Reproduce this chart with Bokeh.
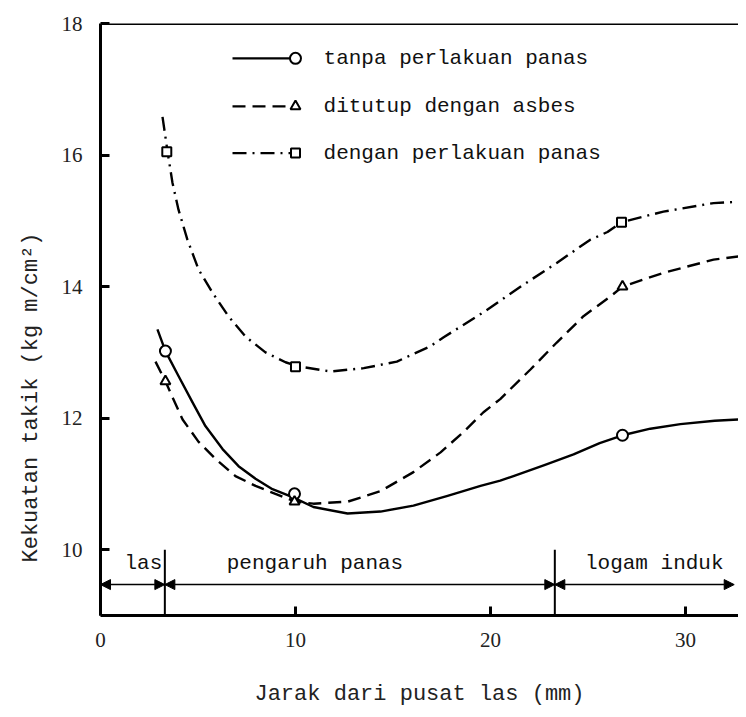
from bokeh.plotting import figure
from bokeh.models import Range1d, FixedTicker, Span, Label, Arrow, NormalHead, Title
from bokeh.embed import file_html
from bokeh.resources import INLINE

# ---------------- data ----------------
x_ticks = [0, 10, 20, 30]
y_ticks = [10, 12, 14, 16, 18]

series_names = ["tanpa perlakuan panas", "ditutup dengan asbes", "dengan perlakuan panas"]

# measured points (markers)
solid_pts_x = [3.33, 9.95, 26.77]
solid_pts_y = [13.02, 10.85, 11.74]
dash_pts_x = [3.33, 9.95, 26.77]
dash_pts_y = [12.56, 10.73, 14.0]
dd_pts_x = [3.4, 10.0, 26.72]
dd_pts_y = [16.05, 12.78, 14.98]

# hand-drawn curves
solid_curve_x = [2.92, 3.33, 4.0, 4.72, 5.38, 6.26, 7.08, 7.95, 8.82, 9.85, 10.92, 12.67,
                 14.36, 16.05, 17.8, 19.49, 20.5, 21.18, 22.8, 24.26, 25.6, 26.77, 28.2,
                 29.74, 31.5, 32.72]
solid_curve_y = [13.35, 13.02, 12.64, 12.24, 11.88, 11.53, 11.27, 11.08, 10.92, 10.80, 10.65, 10.55,
                 10.58, 10.67, 10.82, 10.97, 11.05, 11.12, 11.29, 11.45, 11.62, 11.74, 11.84,
                 11.91, 11.96, 11.98]

dash_curve_x = [2.82, 3.33, 3.69, 4.21, 5.03, 5.90, 6.92, 7.95, 8.97, 10.0, 10.92, 12.67,
                14.36, 16.05, 17.44, 18.62, 19.64, 20.5, 22.05, 23.4, 24.77, 26.15, 26.77,
                28.87, 31.44, 32.72]
dash_curve_y = [12.86, 12.56, 12.32, 11.98, 11.64, 11.38, 11.12, 10.97, 10.85, 10.73, 10.70, 10.73,
                10.89, 11.18, 11.48, 11.79, 12.09, 12.29, 12.74, 13.15, 13.55, 13.85, 14.0,
                14.21, 14.41, 14.46]

dd_curve_x = [3.18, 3.44, 3.69, 4.0, 4.46, 5.03, 5.74, 6.56, 7.44, 8.46, 9.49, 10.1, 11.8,
              13.5, 15.2, 16.9, 17.6, 19.64, 21.7, 23.4, 25.1, 26.0, 26.72, 28.87, 31.44, 32.72]
dd_curve_y = [16.58, 16.05, 15.58, 15.17, 14.71, 14.26, 13.91, 13.55, 13.24, 13.0, 12.85, 12.79, 12.71,
              12.76, 12.86, 13.09, 13.23, 13.61, 14.03, 14.36, 14.71, 14.83, 14.98, 15.14, 15.27, 15.29]

# zones along the bottom
zone_bounds = [0, 3.3, 23.3, 32.5]
zone_names = ["las", "pengaruh panas", "logam induk"]

x_title = "Jarak dari pusat las (mm)"
y_title = "Kekuatan takik (kg m/cm²)"

# ---------------- figure ----------------
MONO = "Liberation Mono"
SERIF = "Liberation Serif"

p = figure(width=738, height=709, output_backend="svg", toolbar_location=None,
           x_range=Range1d(0, 32.72), y_range=Range1d(9, 18),
           min_border_left=100, min_border_right=0, min_border_top=23, min_border_bottom=93)
p.outline_line_color = None
p.grid.visible = False
p.background_fill_color = "white"

for ax, ticks in ((p.xaxis, x_ticks), (p.yaxis, y_ticks)):
    ax.ticker = FixedTicker(ticks=ticks)
    ax.axis_line_width = 3
    ax.axis_line_color = "black"
    ax.major_tick_in = 9
    ax.major_tick_out = 0
    ax.major_tick_line_width = 3
    ax.minor_tick_line_color = None
    ax.major_label_text_font = SERIF
    ax.major_label_text_font_size = "21px"
    ax.major_label_text_color = "#222222"
p.yaxis.major_label_standoff = 18
p.xaxis.major_label_standoff = 17

p.xaxis.axis_label = x_title
p.xaxis.axis_label_text_font = MONO
p.xaxis.axis_label_text_font_size = "22px"
p.xaxis.axis_label_text_font_style = "normal"
p.xaxis.axis_label_text_color = "#222222"
p.xaxis.axis_label_standoff = 32

p.add_layout(Title(text=y_title, align="left", offset=53, standoff=30,
                   text_font=MONO, text_font_size="22px", text_font_style="normal",
                   text_color="#222222"), "left")

p.add_layout(Span(location=18, dimension="width", line_color="black", line_width=3))

LW = 2.4
p.line(solid_curve_x, solid_curve_y, line_color="black", line_width=LW, line_join="round")
p.line(dash_curve_x, dash_curve_y, line_color="black", line_width=LW, line_dash="13 7")
p.line(dd_curve_x, dd_curve_y, line_color="black", line_width=LW, line_dash="14 6 2 6")

mk = dict(fill_color="white", line_color="black", line_width=2)
p.scatter(solid_pts_x, solid_pts_y, marker="circle", size=11, **mk)
p.scatter(dash_pts_x, dash_pts_y, marker="triangle", size=10, **mk)
p.scatter(dd_pts_x, dd_pts_y, marker="square", size=9, **mk)

# legend (custom: line sample, marker, text)
leg_y = [17.47, 16.74, 16.03]
leg_x0, leg_x1, leg_xm, leg_xt = 6.77, 9.74, 10.0, 11.44
dashes = ["solid", "13 7", "14 6 2 6"]
markers = ["circle", "triangle", "square"]
msizes = [11, 10, 9]
for yy, dsh, m, ms, name in zip(leg_y, dashes, markers, msizes, series_names):
    p.line([leg_x0, leg_x1], [yy, yy], line_color="black", line_width=LW, line_dash=dsh)
    p.scatter([leg_xm], [yy], marker=m, size=ms, **mk)
    p.add_layout(Label(x=leg_xt, y=yy, text=name, text_font=MONO, text_font_size="21px",
                       text_baseline="middle", text_align="left", text_color="#111111"))

# zone boundaries and arrows
for b in zone_bounds[1:3]:
    p.segment(x0=[b], y0=[9.0], x1=[b], y1=[10.0], line_color="black", line_width=2)
zone_y = 9.47
for a, b in zip(zone_bounds[:-1], zone_bounds[1:]):
    p.add_layout(Arrow(x_start=a, y_start=zone_y, x_end=b, y_end=zone_y, line_width=1.5,
                       start=NormalHead(size=10, fill_color="black", line_color="black"),
                       end=NormalHead(size=10, fill_color="black", line_color="black")))
zone_label_x = [2.2, 11.0, 28.4]
for zx, zn in zip(zone_label_x, zone_names):
    p.add_layout(Label(x=zx, y=9.79, text=zn, text_font=MONO, text_font_size="21px",
                       text_align="center", text_baseline="middle", text_color="#111111"))

open("out.html", "w").write(file_html(p, INLINE))
